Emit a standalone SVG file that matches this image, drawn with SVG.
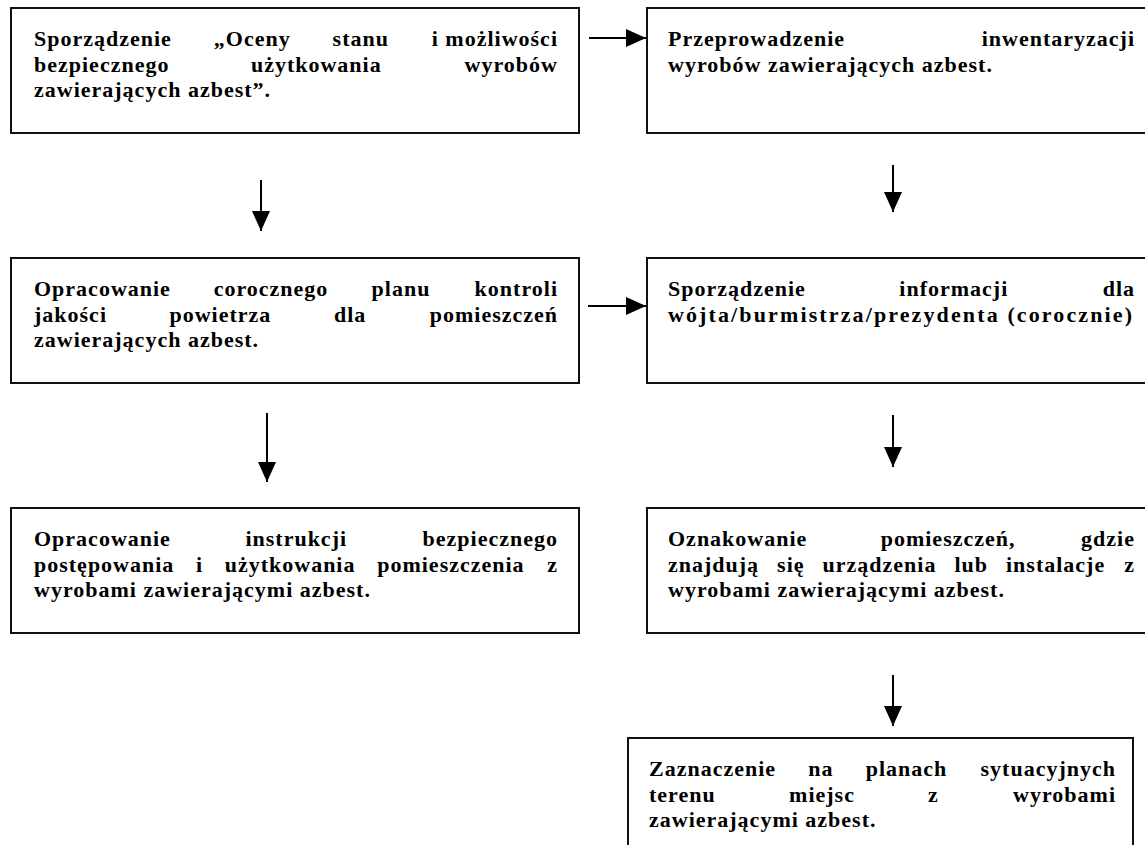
<svg xmlns="http://www.w3.org/2000/svg" width="1145" height="845" viewBox="0 0 1145 845">
<style>
.box{fill:#fff;stroke:#111;stroke-width:2}
.t{font-family:"Liberation Serif","Times New Roman",serif;font-weight:bold;font-size:22px;letter-spacing:1px;fill:#000}
.e{text-anchor:end}
.c{stroke:#000;stroke-width:2;fill:none;marker-end:url(#ah)}
</style>
<defs>
<marker id="ah" markerUnits="userSpaceOnUse" markerWidth="20" markerHeight="18" refX="20" refY="9" orient="auto">
<path d="M0,0 L20,9 L0,18 z" fill="#000"/>
</marker>
</defs>
<rect width="1145" height="845" fill="#fff"/>
<g id="connectors">
<line class="c" x1="589" y1="38" x2="646" y2="38"/>
<line class="c" x1="588" y1="306" x2="646" y2="306"/>
<line class="c" x1="261" y1="180" x2="261" y2="231"/>
<line class="c" x1="267" y1="413" x2="267" y2="482"/>
<line class="c" x1="893" y1="165" x2="893" y2="212"/>
<line class="c" x1="893" y1="415" x2="893" y2="467"/>
<line class="c" x1="893" y1="675" x2="893" y2="726"/>
</g>
<g id="n1">
<rect class="box" x="11" y="8" width="568" height="125"/>
<text class="t" y="46"><tspan x="34">Sporządzenie</tspan><tspan x="213.8">„Oceny</tspan><tspan x="332.6">stanu</tspan></text>
<text class="t e" x="558" y="46">i możliwości</text>
<text class="t" y="71.5"><tspan x="34">bezpiecznego</tspan><tspan x="250.9">użytkowania</tspan></text>
<text class="t e" x="558" y="71.5">wyrobów</text>
<text class="t" x="34" y="97">zawierających azbest”.</text>
</g>
<g id="n2">
<rect class="box" x="647" y="8" width="510" height="125"/>
<text class="t" x="668" y="46">Przeprowadzenie</text>
<text class="t e" x="1135" y="46">inwentaryzacji</text>
<text class="t" x="668" y="71.5">wyrobów zawierających azbest.</text>
</g>
<g id="n3">
<rect class="box" x="11" y="258" width="568" height="125"/>
<text class="t" y="296"><tspan x="34">Opracowanie</tspan><tspan x="213.7">corocznego</tspan><tspan x="371.6">planu</tspan></text>
<text class="t e" x="558" y="296">kontroli</text>
<text class="t" y="321.5"><tspan x="34">jakości</tspan><tspan x="169.5">powietrza</tspan><tspan x="333.9">dla</tspan></text>
<text class="t e" x="558" y="321.5">pomieszczeń</text>
<text class="t" x="34" y="347">zawierających azbest.</text>
</g>
<g id="n4">
<rect class="box" x="647" y="258" width="510" height="125"/>
<text class="t" y="296"><tspan x="668">Sporządzenie</tspan><tspan x="899.3">informacji</tspan></text>
<text class="t e" x="1135" y="296">dla</text>
<text class="t" x="668" y="321.5" textLength="465" lengthAdjust="spacing">wójta/burmistrza/prezydenta (corocznie)</text>
</g>
<g id="n5">
<rect class="box" x="11" y="508" width="568" height="125"/>
<text class="t" y="546"><tspan x="34">Opracowanie</tspan><tspan x="245.4">instrukcji</tspan></text>
<text class="t e" x="558" y="546">bezpiecznego</text>
<text class="t" y="571.5"><tspan x="34">postępowania</tspan><tspan x="196">i</tspan><tspan x="224.7">użytkowania</tspan><tspan x="377.2">pomieszczenia</tspan></text>
<text class="t e" x="558" y="571.5">z</text>
<text class="t" x="34" y="597">wyrobami zawierającymi azbest.</text>
</g>
<g id="n6">
<rect class="box" x="647" y="508" width="510" height="125"/>
<text class="t" y="546"><tspan x="668">Oznakowanie</tspan><tspan x="880.7">pomieszczeń,</tspan></text>
<text class="t e" x="1135" y="546">gdzie</text>
<text class="t" y="571.5"><tspan x="668">znajdują</tspan><tspan x="777.1">się</tspan><tspan x="822.5">urządzenia</tspan><tspan x="954.4">lub</tspan><tspan x="1006">instalacje</tspan></text>
<text class="t e" x="1135" y="571.5">z</text>
<text class="t" x="668" y="597">wyrobami zawierającymi azbest.</text>
</g>
<g id="n7">
<rect class="box" x="628" y="738" width="505" height="130"/>
<text class="t" y="776"><tspan x="649">Zaznaczenie</tspan><tspan x="808.3">na</tspan><tspan x="865.7">planach</tspan></text>
<text class="t e" x="1116" y="776">sytuacyjnych</text>
<text class="t" y="801.5"><tspan x="649">terenu</tspan><tspan x="789.1">miejsc</tspan><tspan x="928">z</tspan></text>
<text class="t e" x="1116" y="801.5">wyrobami</text>
<text class="t" x="649" y="827">zawierającymi azbest.</text>
</g>
</svg>
